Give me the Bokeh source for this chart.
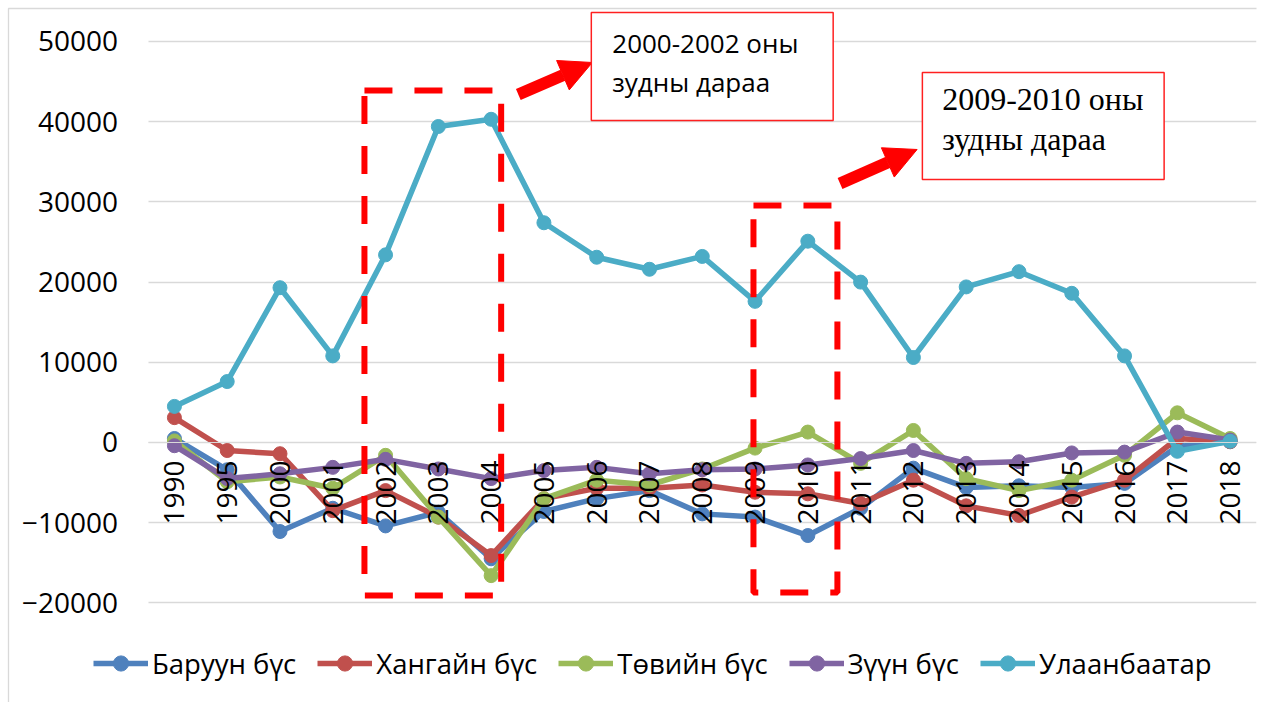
import numpy as np
from bokeh.plotting import figure
from bokeh.models import (Range1d, LinearAxis, FixedTicker, BoxAnnotation, Label,
                          Arrow, NormalHead, Legend, LegendItem)
from bokeh.embed import file_html
from bokeh.resources import INLINE

# ---------------- data ----------------
years = ["1990", "1995", "2000", "2001", "2002", "2003", "2004", "2005", "2006",
         "2007", "2008", "2009", "2010", "2011", "2012", "2013", "2014", "2015",
         "2016", "2017", "2018"]

baruun = [500, -3400, -11100, -8200, -10400, -8700, -14500, -8600, -7000, -6000,
          -8900, -9300, -11600, -8200, -3200, -5600, -5400, -5600, -5100, -500, 100]
khangai = [3100, -1000, -1400, -8500, -6000, -9300, -14100, -7000, -5700, -5700,
           -5300, -6200, -6400, -7600, -4700, -7900, -9100, -6800, -4700, 500, 100]
tuv = [200, -4900, -4300, -5700, -1600, -9300, -16600, -7000, -4700, -5300,
       -3300, -700, 1300, -2600, 1500, -4500, -6000, -4700, -1600, 3700, 500]
zuun = [-400, -4500, -3900, -3100, -2100, -3300, -4500, -3500, -3100, -3900,
        -3400, -3300, -2800, -2000, -1000, -2600, -2400, -1300, -1200, 1300, 300]
ulaanbaatar = [4500, 7600, 19300, 10800, 23400, 39400, 40300, 27400, 23100, 21600,
               23200, 17600, 25100, 20000, 10600, 19400, 21300, 18600, 10800, -1100, 150]

series_names = ["Баруун бүс", "Хангайн бүс", "Төвийн бүс", "Зүүн бүс", "Улаанбаатар"]
series_values = [baruun, khangai, tuv, zuun, ulaanbaatar]
series_colors = ["#4F81BD", "#C0504D", "#9BBB59", "#8064A2", "#4BACC6"]

y_ticks = [-20000, -10000, 0, 10000, 20000, 30000, 40000, 50000]

note1 = ["2000-2002 оны", "зудны дараа"]
note2 = ["2009-2010 оны", "зудны дараа"]

# ---------------- figure ----------------
x = list(range(len(years)))
X0, X1 = -3.295, len(years) - 0.5      # frame spans the whole left margin
Y0, Y1 = -32419, 55112

p = figure(width=1278, height=702, output_backend="svg", toolbar_location=None,
           x_range=Range1d(X0, X1), y_range=Range1d(Y0, Y1),
           x_axis_location=None, y_axis_location=None,
           min_border_left=0, min_border_right=22, min_border_top=0, min_border_bottom=0)
p.outline_line_color = None
p.background_fill_color = "white"
p.border_fill_color = "white"

FONT = "Open Sans"

# horizontal grid
p.ygrid.ticker = FixedTicker(ticks=y_ticks)
p.ygrid.grid_line_color = "#d9d9d9"
p.ygrid.grid_line_width = 1.3
p.xgrid.visible = False
try:
    p.ygrid.cross_bounds = (-0.5, len(years) - 0.5)
    cover_needed = False
except Exception:
    cover_needed = True
if cover_needed:
    p.add_layout(BoxAnnotation(left=X0, right=-0.5, top=Y1, bottom=Y0, fill_color="white",
                               fill_alpha=1, line_color=None, level="underlay"))

# chart-area border (left and top edges)
p.add_layout(BoxAnnotation(left=X0 + 8 / 52.8, right=X1 + 5, top=Y1 - 8 / 80.2e-4,
                           bottom=Y0 - 20000, fill_color=None, fill_alpha=0,
                           line_color="#d9d9d9", line_alpha=1, line_width=1.3,
                           level="underlay"))

# y axis at the left edge of the category area
yaxis = LinearAxis(fixed_location=-0.5, ticker=FixedTicker(ticks=y_ticks),
                   axis_line_color=None, major_tick_line_color=None,
                   minor_tick_line_color=None, major_tick_out=0, major_tick_in=0,
                   major_label_standoff=30, major_label_text_font=FONT,
                   major_label_text_font_size="28px", major_label_text_color="black")
p.add_layout(yaxis, "left")

# x axis crossing at zero
xaxis = LinearAxis(fixed_location=0,
                   bounds=(-0.5, len(years) - 0.5),
                   ticker=FixedTicker(ticks=x),
                   major_label_overrides={i: yr for i, yr in enumerate(years)},
                   major_label_orientation=np.pi / 2,
                   axis_line_color="#d9d9d9",
                   major_tick_line_color=None,
                   minor_tick_line_color=None,
                   major_tick_out=0, major_tick_in=0,
                   major_label_standoff=18,
                   major_label_text_font=FONT,
                   major_label_text_font_size="28px",
                   major_label_text_color="black")
p.add_layout(xaxis, "below")

# series
items = []
for name, vals, col in zip(series_names, series_values, series_colors):
    r1 = p.line(x, vals, line_width=5.5, color=col)
    r2 = p.scatter(x, vals, size=14, color=col)
    items.append(LegendItem(label=name, renderers=[r1, r2]))

lg = Legend(items=items, orientation="horizontal", location=(93, 20),
            background_fill_alpha=0, border_line_color=None, padding=0, margin=0,
            spacing=21, glyph_width=55, glyph_height=38, label_standoff=4,
            label_text_font=FONT, label_text_font_size="27.5px", label_text_color="black")
p.add_layout(lg, "center")

# dashed highlight rectangles
dash_kw = dict(fill_color=None, fill_alpha=0, line_color="#ff0000", line_alpha=1,
               line_width=6, line_dash="28 22", level="annotation")
p.add_layout(BoxAnnotation(left=3.60, right=6.19, top=43890, bottom=-19077, **dash_kw))
p.add_layout(BoxAnnotation(left=10.97, right=12.56, top=29550, bottom=-18700, **dash_kw))

# arrows
p.add_layout(Arrow(x_start=6.515, y_start=43392, x_end=7.917, y_end=47382,
                   line_color="#ff0000", line_width=12,
                   end=NormalHead(size=32, fill_color="#ff0000", line_color="#ff0000")))
p.add_layout(Arrow(x_start=12.61, y_start=32294, x_end=14.07, y_end=36534,
                   line_color="#ff0000", line_width=12,
                   end=NormalHead(size=32, fill_color="#ff0000", line_color="#ff0000")))

# note boxes
box_kw = dict(fill_color="white", fill_alpha=1, line_color="#ff2020", line_alpha=1,
              line_width=1.5)
p.add_layout(BoxAnnotation(left=7.898, right=12.48, top=53616, bottom=40150, **box_kw))
p.add_layout(BoxAnnotation(left=14.17, right=18.75, top=46135, bottom=32793, **box_kw))

p.add_layout(Label(x=8.295, y=49751, text=note1[0], text_font=FONT, text_font_size="26px",
                   text_baseline="alphabetic", text_align="left", text_color="black"))
p.add_layout(Label(x=8.295, y=45012, text=note1[1], text_font=FONT, text_font_size="26px",
                   text_baseline="alphabetic", text_align="left", text_color="black"))
p.add_layout(Label(x=14.545, y=42768, text=note2[0], text_font="Liberation Serif",
                   text_font_size="32px", text_baseline="alphabetic", text_align="left",
                   text_color="black"))
p.add_layout(Label(x=14.545, y=37905, text=note2[1], text_font="Liberation Serif",
                   text_font_size="32px", text_baseline="alphabetic", text_align="left",
                   text_color="black"))

open("out.html", "w").write(file_html(p, INLINE))
